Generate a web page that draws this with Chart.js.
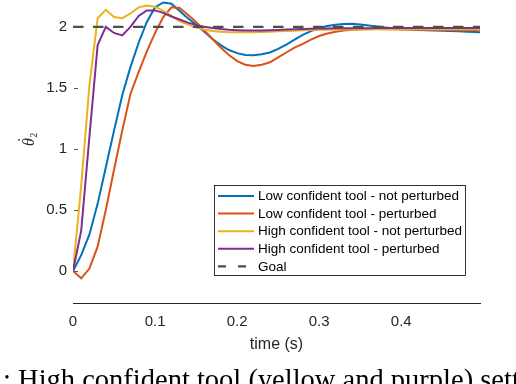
<!DOCTYPE html>
<html>
<head>
<meta charset="utf-8">
<script src="https://cdn.jsdelivr.net/npm/chart.js@4"></script>
<style>
  html, body { margin: 0; padding: 0; background: #ffffff; }
  #wrap { width: 516px; height: 384px; position: relative; overflow: hidden; }
  canvas { display: block; }
</style>
</head>
<body>
<div id="wrap"><canvas id="c" width="516" height="384"></canvas></div>
<script>
// ---- data ----
const times = [0.00,0.01,0.02,0.03,0.04,0.05,0.06,0.07,0.08,0.09,
               0.10,0.11,0.12,0.13,0.14,0.15,0.16,0.17,0.18,0.19,
               0.20,0.21,0.22,0.23,0.24,0.25,0.26,0.27,0.28,0.29,
               0.30,0.31,0.32,0.33,0.34,0.35,0.36,0.37,0.38,0.39,
               0.40,0.41,0.42,0.43,0.44,0.45,0.46,0.47,0.48,0.49,0.50];

const lowNotPerturbed = [0,0.13,0.30,0.55,0.85,1.15,1.44,1.67,1.87,2.04,
                         2.16,2.20,2.19,2.13,2.07,2.02,1.96,1.90,1.85,1.81,
                         1.785,1.77,1.768,1.775,1.79,1.82,1.855,1.895,1.935,1.965,
                         1.99,2.007,2.018,2.024,2.025,2.02,2.012,2.003,1.995,1.988,
                         1.982,1.978,1.975,1.973,1.971,1.969,1.966,1.963,1.96,1.957,1.955];

const lowPerturbed = [0,-0.06,0.02,0.20,0.50,0.83,1.15,1.45,1.63,1.80,
                      1.95,2.08,2.16,2.155,2.10,2.04,1.97,1.90,1.83,1.77,
                      1.72,1.69,1.68,1.69,1.71,1.75,1.79,1.83,1.86,1.895,
                      1.925,1.945,1.96,1.97,1.977,1.98,1.982,1.982,1.981,1.98,
                      1.979,1.978,1.977,1.976,1.975,1.975,1.974,1.973,1.973,1.972,1.972];

const highNotPerturbed = [0,0.70,1.52,2.07,2.14,2.08,2.07,2.11,2.16,2.175,
                          2.165,2.13,2.09,2.045,2.02,1.995,1.978,1.966,1.96,1.956,
                          1.955,1.955,1.956,1.958,1.96,1.963,1.966,1.969,1.972,1.974,
                          1.976,1.977,1.978,1.978,1.979,1.979,1.979,1.98,1.98,1.98,
                          1.98,1.98,1.98,1.98,1.98,1.98,1.98,1.98,1.98,1.98,1.98];

const highPerturbed = [0,0.33,1.10,1.85,2.00,1.95,1.93,2.00,2.09,2.135,
                       2.135,2.115,2.085,2.06,2.035,2.015,2.0,1.99,1.982,1.976,
                       1.973,1.971,1.97,1.971,1.973,1.975,1.978,1.98,1.982,1.984,
                       1.986,1.987,1.988,1.988,1.989,1.989,1.989,1.99,1.99,1.99,
                       1.99,1.99,1.99,1.99,1.99,1.99,1.99,1.99,1.99,1.99,1.99];

const goalValue = 2;

const seriesLabels = ['Low confident tool - not perturbed',
                      'Low confident tool - perturbed',
                      'High confident tool - not perturbed',
                      'High confident tool - perturbed',
                      'Goal'];
const xTickValues = [0, 0.1, 0.2, 0.3, 0.4];
const yTickValues = [0, 0.5, 1, 1.5, 2];
const xTitle = 'time (s)';
const yTitleMain = '\u03B8';
const yTitleDot = '\u02D9';
const yTitleSub = '2';
const captionText = ': High confident tool (yellow and purple) settles';

// ---- build ----
const toXY = arr => times.map((t, i) => ({ x: t, y: arr[i] }));
const goal = times.map(t => ({ x: t, y: goalValue }));

const colors = ['#0072BD', '#D95319', '#EDB120', '#7E2F8E', '#4D4D4D'];
const seriesData = [toXY(lowNotPerturbed), toXY(lowPerturbed), toXY(highNotPerturbed), toXY(highPerturbed), goal];

const datasets = seriesData.map((d, i) => ({
  label: seriesLabels[i],
  data: d,
  borderColor: colors[i],
  backgroundColor: colors[i],
  borderWidth: i === 4 ? 2.2 : 2,
  borderDash: i === 4 ? [10.5, 9.5] : [],
  pointRadius: 0,
  tension: 0,
  fill: false,
  order: 5 - i
}));

const TEXT = '#262626';
const SANS = '"Liberation Sans", Arial, Helvetica, sans-serif';

const decor = {
  id: 'decor',
  afterDraw(chart) {
    const ctx = chart.ctx;
    const ca = chart.chartArea;
    const ys = chart.scales.y;
    ctx.save();
    // inward y ticks
    ctx.strokeStyle = '#555555';
    ctx.lineWidth = 1;
    yTickValues.forEach(v => {
      const py = Math.round(ys.getPixelForValue(v)) + 0.5;
      ctx.beginPath();
      ctx.moveTo(ca.left + 1, py);
      ctx.lineTo(ca.left + 5, py);
      ctx.stroke();
    });
    // y title (rotated)
    ctx.save();
    ctx.translate(34, 146);
    ctx.rotate(-Math.PI / 2);
    ctx.fillStyle = TEXT;
    ctx.textAlign = 'left';
    ctx.textBaseline = 'alphabetic';
    ctx.font = 'italic 16px "Liberation Serif", "DejaVu Serif", serif';
    ctx.fillText(yTitleMain, 0, 0);
    const tw = ctx.measureText(yTitleMain).width;
    ctx.fillText(yTitleDot, 2.5, -5);
    ctx.font = '10px "Liberation Serif", "DejaVu Serif", serif';
    ctx.fillText(yTitleSub, tw + 0.5, 3);
    ctx.restore();

    // legend
    const bx = 214.5, by = 185.5, bw = 251, bh = 90;
    ctx.fillStyle = '#ffffff';
    ctx.fillRect(bx, by, bw, bh);
    ctx.strokeStyle = '#000000';
    ctx.lineWidth = 0.8;
    ctx.strokeRect(bx, by, bw, bh);
    ctx.font = '13.5px ' + SANS;
    ctx.textBaseline = 'middle';
    ctx.textAlign = 'left';
    chart.data.datasets.forEach((ds, i) => {
      const ry = 196 + i * 17.6;
      ctx.beginPath();
      ctx.strokeStyle = ds.borderColor;
      ctx.lineWidth = ds.borderWidth;
      ctx.setLineDash(i === 4 ? [8, 12] : []);
      ctx.moveTo(218, ry);
      ctx.lineTo(254, ry);
      ctx.stroke();
      ctx.setLineDash([]);
      ctx.fillStyle = '#000000';
      ctx.fillText(ds.label, 258, ry + 0.5);
    });

    // caption (cut by the bottom edge)
    ctx.fillStyle = '#000000';
    ctx.font = '28.5px "Liberation Serif", "Times New Roman", serif';
    ctx.textAlign = 'left';
    ctx.textBaseline = 'alphabetic';
    ctx.fillText(captionText, 3, 389);
    ctx.restore();
  }
};

new Chart(document.getElementById('c'), {
  type: 'line',
  data: { datasets },
  options: {
    responsive: false,
    animation: false,
    devicePixelRatio: 1,
    layout: { padding: { left: 0, right: 36, top: 0, bottom: 0 } },
    plugins: {
      legend: { display: false },
      tooltip: { enabled: false },
      title: { display: false }
    },
    scales: {
      x: {
        type: 'linear',
        min: 0,
        max: 0.496,
        afterFit(s) { s.height = 81; s.paddingLeft = 0; s.paddingRight = 0; },
        afterBuildTicks(s) { s.ticks = xTickValues.map(v => ({ value: v })); },
        grid: { display: false, drawTicks: false },
        border: { display: true, color: TEXT, width: 1 },
        ticks: {
          color: TEXT,
          font: { family: SANS, size: 15 },
          padding: 10,
          maxRotation: 0,
          autoSkip: false,
          callback: v => (v === 0 ? '0' : String(Math.round(v * 10) / 10))
        },
        title: {
          display: true,
          text: xTitle,
          color: TEXT,
          font: { family: SANS, size: 16 },
          padding: { top: 0, bottom: 29.5 }
        }
      },
      y: {
        type: 'linear',
        min: -0.262,
        max: 2.22,
        afterFit(s) { s.width = 73; s.paddingTop = 0; s.paddingBottom = 0; },
        afterBuildTicks(s) { s.ticks = yTickValues.map(v => ({ value: v })); },
        grid: { display: false, drawTicks: false },
        border: { display: false },
        ticks: {
          color: TEXT,
          font: { family: SANS, size: 15 },
          padding: 6,
          callback: v => String(Math.round(v * 10) / 10)
        }
      }
    }
  },
  plugins: [decor]
});
</script>
</body>
</html>
